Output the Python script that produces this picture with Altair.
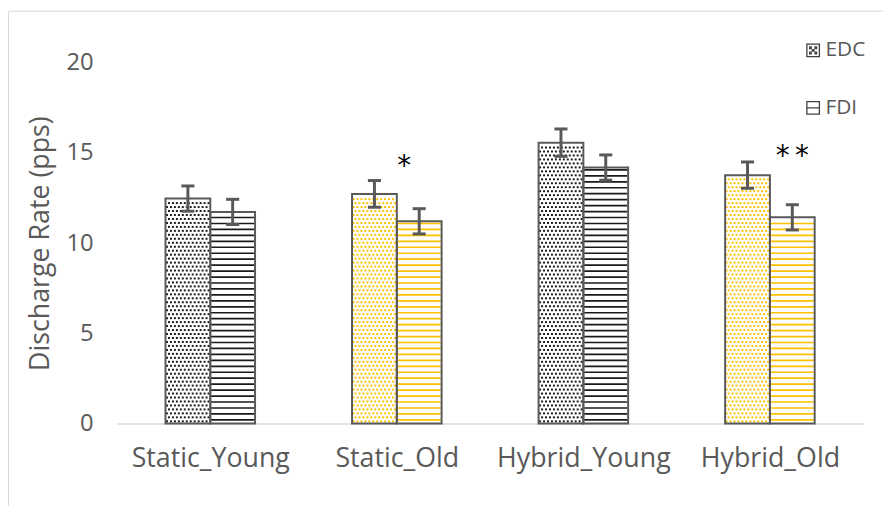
import altair as alt
import numpy as np
import pandas as pd

# ---- data ----
groups = ["Static_Young", "Static_Old", "Hybrid_Young", "Hybrid_Old"]
edc = [12.47, 12.73, 15.57, 13.77]
fdi = [11.73, 11.21, 14.19, 11.43]
edc_err = [0.70, 0.74, 0.76, 0.73]
fdi_err = [0.70, 0.70, 0.70, 0.70]
pattern_colors = ["#1a1a1a", "#FFC000", "#1a1a1a", "#FFC000"]
series = ["EDC", "FDI"]
star_text = ["*", "*\u2009*"]
star_x = [1.04, 3.12]
star_y = [14.2, 14.75]
y_ticks = [0, 5, 10, 15, 20]

BW = 0.24  # bar width in category units
FONT = "Open Sans"
GREY = "#595959"

# ---- tables ----
rows = []
for i, g in enumerate(groups):
    rows.append(dict(group=g, series="EDC", x0=i - BW, x1=i, xc=i - BW / 2, value=edc[i],
                     lo=edc[i] - edc_err[i], hi=edc[i] + edc_err[i], col=pattern_colors[i]))
    rows.append(dict(group=g, series="FDI", x0=i, x1=i + BW, xc=i + BW / 2, value=fdi[i],
                     lo=fdi[i] - fdi_err[i], hi=fdi[i] + fdi_err[i], col=pattern_colors[i]))
bars = pd.DataFrame(rows)
bars["cap0"] = bars["xc"] - 0.035
bars["cap1"] = bars["xc"] + 0.035

# fill patterns (decoration only): stripes for FDI, dots for EDC
stripe_rows = []
dot_rows = []
for r in rows:
    if r["series"] == "FDI":
        for yy in np.arange(0.2, r["value"] - 0.05, 0.33):
            stripe_rows.append(dict(x0=r["x0"] + 0.004, x1=r["x1"] - 0.004, y=yy, col=r["col"]))
    else:
        for k, yy in enumerate(np.arange(0.12, r["value"] - 0.08, 0.22)):
            off = 0.0106 if k % 2 else 0.0
            for xx in np.arange(r["x0"] + 0.008 + off, r["x1"] - 0.006, 0.0212):
                dot_rows.append(dict(x=xx, y=yy, col=r["col"]))
stripes = pd.DataFrame(stripe_rows)
dots = pd.DataFrame(dot_rows)

stars = pd.DataFrame(dict(x=star_x, y=star_y, t=star_text))
legend_df = pd.DataFrame(dict(series=series, x=[0.0, 0.0], y=[1.0, 1.0]))

label_expr = "[" + ",".join(f"'{g}'" for g in groups) + "][datum.value]"

xscale = alt.Scale(domain=[-0.5, 3.5], nice=False, zero=False)
yscale = alt.Scale(domain=[0, 20], nice=False)

x_axis = alt.Axis(values=[0, 1, 2, 3], labelExpr=label_expr, title=None, grid=False, ticks=False,
                  domainColor="#d9d9d9", domainWidth=1.5, labelColor=GREY, labelFont=FONT,
                  labelFontSize=27, labelPadding=22)
y_axis = alt.Axis(values=y_ticks, title="Discharge Rate (pps)", grid=False, ticks=False, domain=False,
                  labelColor=GREY, labelFont=FONT, labelFontSize=24, labelPadding=24,
                  titleColor=GREY, titleFont=FONT, titleFontSize=27, titleFontWeight="normal",
                  titlePadding=12)

base = alt.Chart(bars)

frame = alt.Chart(pd.DataFrame({"a": [0]})).mark_rect(fill=None, stroke="#d9d9d9", strokeWidth=1).encode(
    x=alt.value(-109.5), x2=alt.value(2000), y=alt.value(-52), y2=alt.value(2000))

bar_fill = base.mark_rect(fill="white", stroke=None).encode(
    x=alt.X("x0:Q", scale=xscale, axis=x_axis), x2="x1:Q",
    y=alt.Y("value:Q", scale=yscale, axis=y_axis), y2=alt.datum(0))

stripe_layer = alt.Chart(stripes).mark_rule(strokeWidth=1.7).encode(
    x=alt.X("x0:Q", scale=xscale), x2="x1:Q", y=alt.Y("y:Q", scale=yscale),
    color=alt.Color("col:N", scale=None, legend=None))

dot_layer = alt.Chart(dots).mark_square(size=4, opacity=1).encode(
    x=alt.X("x:Q", scale=xscale), y=alt.Y("y:Q", scale=yscale),
    color=alt.Color("col:N", scale=None, legend=None))

outline = base.mark_rect(fill=None, stroke=GREY, strokeWidth=2).encode(
    x=alt.X("x0:Q", scale=xscale), x2="x1:Q", y=alt.Y("value:Q", scale=yscale), y2=alt.datum(0))

err = base.mark_rule(color=GREY, strokeWidth=3).encode(
    x=alt.X("xc:Q", scale=xscale), y=alt.Y("lo:Q", scale=yscale), y2="hi:Q")
cap_lo = base.mark_rule(color=GREY, strokeWidth=3).encode(
    x=alt.X("cap0:Q", scale=xscale), x2="cap1:Q", y=alt.Y("lo:Q", scale=yscale))
cap_hi = base.mark_rule(color=GREY, strokeWidth=3).encode(
    x=alt.X("cap0:Q", scale=xscale), x2="cap1:Q", y=alt.Y("hi:Q", scale=yscale))

star_layer = alt.Chart(stars).mark_text(font="DejaVu Sans", fontSize=28, color="black",
                                         baseline="middle", align="center").encode(
    x=alt.X("x:Q", scale=xscale), y=alt.Y("y:Q", scale=yscale), text="t:N")

edc_path = ("M-1,-1H1V1H-1Z M-0.55,-0.55h0.25v0.25h-0.25Z M0.3,-0.55h0.25v0.25h-0.25Z "
            "M-0.55,0.3h0.25v0.25h-0.25Z M0.3,0.3h0.25v0.25h-0.25Z M-0.12,-0.12h0.24v0.24h-0.24Z")
fdi_path = "M-1,-1H1V1H-1Z M-1,0H1"

legend_layer = alt.Chart(legend_df).mark_point(opacity=0, size=1).encode(
    x=alt.X("x:Q", scale=xscale), y=alt.Y("y:Q", scale=yscale),
    shape=alt.Shape("series:N", scale=alt.Scale(domain=series, range=[edc_path, fdi_path]),
                    legend=alt.Legend(title=None, orient="none", legendX=692, legendY=-23,
                                      symbolOpacity=1, symbolSize=160, symbolFillColor="white",
                                      symbolStrokeColor="#404040", symbolStrokeWidth=1.3,
                                      labelFont=FONT, labelFontSize=21, labelColor=GREY,
                                      labelOffset=2, rowPadding=36)))

chart = alt.layer(frame, bar_fill, stripe_layer, dot_layer, outline, err, cap_lo, cap_hi,
                  star_layer, legend_layer).properties(
    width=753, height=364, autosize="none",
    padding={"left": 110, "top": 53, "right": 20, "bottom": 81},
    background="white",
).configure_view(stroke=None)

chart.save("out.html", embed_options={"renderer": "svg", "actions": False})
